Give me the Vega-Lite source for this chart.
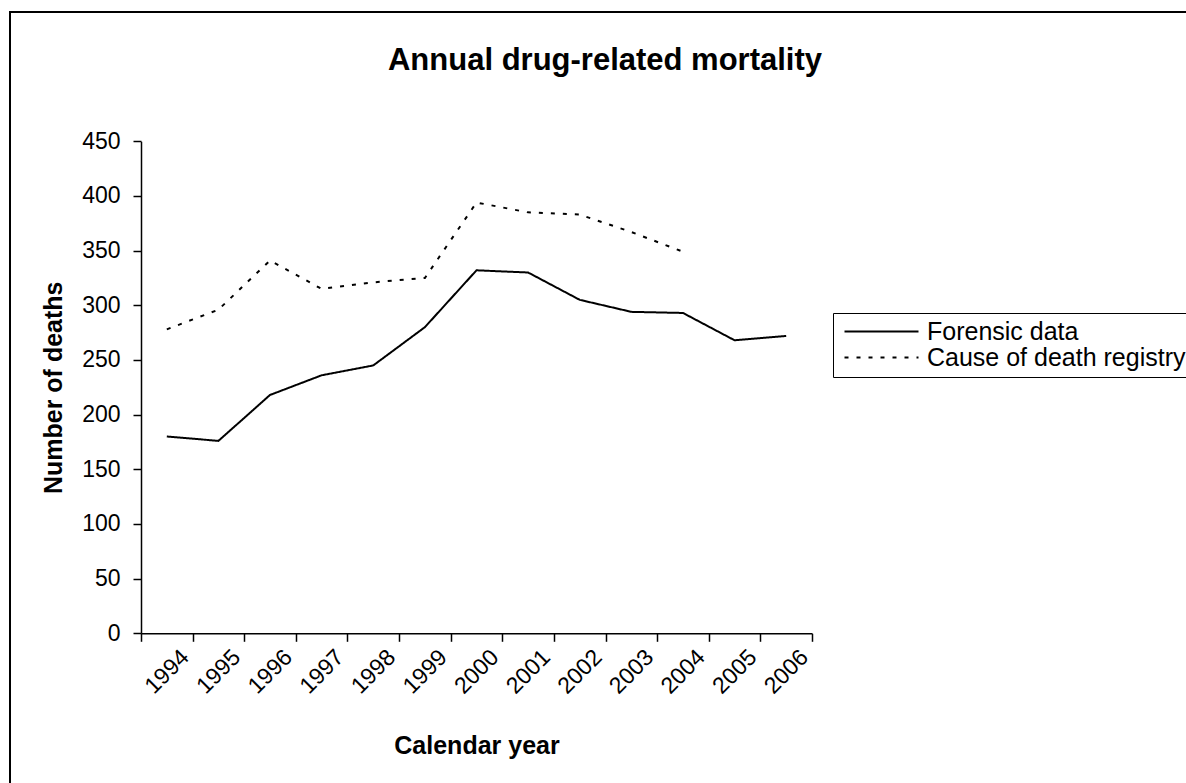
{
  "$schema": "https://vega.github.io/schema/vega-lite/v6.json",
  "width": 1176,
  "height": 771,
  "autosize": {"type": "none"},
  "padding": {"left": 10, "top": 12, "right": 0, "bottom": 0},
  "background": "white",
  "config": {
    "font": "Liberation Sans",
    "view": {"stroke": "black", "strokeWidth": 2, "fill": "white", "strokeDash": [1176, 1947, 771]},
    "axis": {
      "domainColor": "black",
      "domainWidth": 1.5,
      "tickColor": "black",
      "tickWidth": 1.5,
      "tickSize": 8,
      "grid": false,
      "labelColor": "black",
      "labelFont": "Liberation Sans",
      "labelFontSize": 23,
      "titleColor": "black",
      "titleFont": "Liberation Sans",
      "titleFontSize": 25,
      "titleFontWeight": "bold"
    }
  },
  "title": {
    "text": "Annual drug-related mortality",
    "font": "Liberation Sans",
    "fontSize": 31,
    "fontWeight": "bold",
    "color": "black",
    "anchor": "middle",
    "frame": "group",
    "baseline": "bottom",
    "offset": -96,
    "dx": 7
  },
  "data": {
    "values": [
      {"year": "1994", "series": "Forensic data", "deaths": 180},
      {"year": "1995", "series": "Forensic data", "deaths": 176},
      {"year": "1996", "series": "Forensic data", "deaths": 218},
      {"year": "1997", "series": "Forensic data", "deaths": 236},
      {"year": "1998", "series": "Forensic data", "deaths": 245},
      {"year": "1999", "series": "Forensic data", "deaths": 280},
      {"year": "2000", "series": "Forensic data", "deaths": 332},
      {"year": "2001", "series": "Forensic data", "deaths": 330},
      {"year": "2002", "series": "Forensic data", "deaths": 305},
      {"year": "2003", "series": "Forensic data", "deaths": 294},
      {"year": "2004", "series": "Forensic data", "deaths": 293},
      {"year": "2005", "series": "Forensic data", "deaths": 268},
      {"year": "2006", "series": "Forensic data", "deaths": 272},
      {"year": "1994", "series": "Cause of death registry", "deaths": 278},
      {"year": "1995", "series": "Cause of death registry", "deaths": 296},
      {"year": "1996", "series": "Cause of death registry", "deaths": 341},
      {"year": "1997", "series": "Cause of death registry", "deaths": 315},
      {"year": "1998", "series": "Cause of death registry", "deaths": 321},
      {"year": "1999", "series": "Cause of death registry", "deaths": 325},
      {"year": "2000", "series": "Cause of death registry", "deaths": 394},
      {"year": "2001", "series": "Cause of death registry", "deaths": 385},
      {"year": "2002", "series": "Cause of death registry", "deaths": 383},
      {"year": "2003", "series": "Cause of death registry", "deaths": 367},
      {"year": "2004", "series": "Cause of death registry", "deaths": 349}
    ]
  },
  "mark": {"type": "line", "color": "black", "strokeWidth": 2, "clip": false},
  "encoding": {
    "x": {
      "field": "year",
      "type": "ordinal",
      "bandPosition": 0.5,
      "scale": {"type": "band", "range": [131, 802], "paddingInner": 0, "paddingOuter": 0},
      "axis": {
        "title": "Calendar year",
        "orient": "bottom",
        "offset": -149.7,
        "tickBand": "extent",
        "labelAngle": -45,
        "labelAlign": "right",
        "labelBaseline": "middle",
        "labelPadding": 12,
        "labelOffset": 18,
        "titlePadding": 36
      }
    },
    "y": {
      "field": "deaths",
      "type": "quantitative",
      "scale": {"domain": [0, 450], "range": [621.3, 129.3], "nice": false, "zero": true},
      "axis": {
        "title": "Number of deaths",
        "orient": "left",
        "offset": -131,
        "values": [0, 50, 100, 150, 200, 250, 300, 350, 400, 450],
        "labelPadding": 13,
        "titlePadding": 15
      }
    },
    "strokeDash": {
      "field": "series",
      "type": "nominal",
      "scale": {
        "domain": ["Forensic data", "Cause of death registry"],
        "range": [[1, 0], [4, 8]]
      },
      "legend": {
        "title": null,
        "orient": "none",
        "legendX": 823,
        "legendY": 301,
        "padding": 6,
        "strokeColor": "black",
        "fillColor": "white",
        "symbolType": "M-1,0H6.4",
        "symbolSize": 400,
        "symbolStrokeWidth": 2,
        "symbolStrokeColor": "black",
        "symbolOffset": 3,
        "labelOffset": 60,
        "labelFont": "Liberation Sans",
        "labelFontSize": 25,
        "labelColor": "black",
        "labelLimit": 400,
        "rowPadding": 0
      }
    }
  }
}
